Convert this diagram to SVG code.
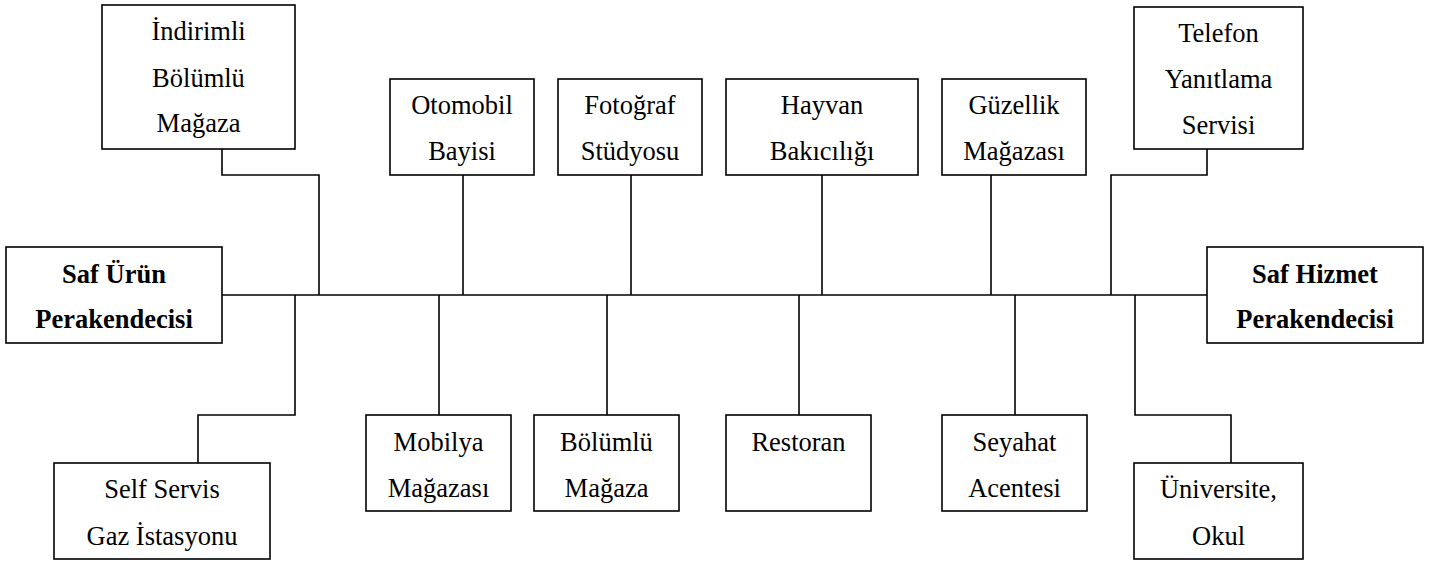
<svg xmlns="http://www.w3.org/2000/svg" width="1434" height="563" viewBox="0 0 1434 563">
  <style>
    .box { fill: #ffffff; stroke: #000000; stroke-width: 1.6; }
    .wire { fill: none; stroke: #000000; stroke-width: 1.6; }
    .lbl { font-family: 'Liberation Serif', 'Times New Roman', serif; font-size: 26.5px; fill: #000000; text-anchor: middle; }
    .bold { font-weight: bold; }
  </style>
  <rect width="1434" height="563" fill="#ffffff"/>

  <!-- connectors: main axis plus branches -->
  <g id="connectors">
    <line class="wire" x1="222" y1="295" x2="1207" y2="295"/>
    <polyline class="wire" points="222,149 222,175 319,175 319,295"/>
    <line class="wire" x1="463" y1="175" x2="463" y2="295"/>
    <line class="wire" x1="631" y1="175" x2="631" y2="295"/>
    <line class="wire" x1="822" y1="175" x2="822" y2="295"/>
    <line class="wire" x1="991" y1="175" x2="991" y2="295"/>
    <polyline class="wire" points="1207,149 1207,175 1111,175 1111,295"/>
    <polyline class="wire" points="295,295 295,415 198,415 198,463"/>
    <line class="wire" x1="439" y1="295" x2="439" y2="415"/>
    <line class="wire" x1="607" y1="295" x2="607" y2="415"/>
    <line class="wire" x1="799" y1="295" x2="799" y2="415"/>
    <line class="wire" x1="1015" y1="295" x2="1015" y2="415"/>
    <polyline class="wire" points="1135,295 1135,415 1231,415 1231,463"/>
  </g>

  <!-- upper row -->
  <g id="indirimli">
    <rect class="box" x="102" y="5" width="193" height="144"/>
    <text class="lbl" x="198.5" y="40">İndirimli</text>
    <text class="lbl" x="198.5" y="86.5">Bölümlü</text>
    <text class="lbl" x="198.5" y="132">Mağaza</text>
  </g>
  <g id="otomobil">
    <rect class="box" x="390" y="79" width="144" height="96"/>
    <text class="lbl" x="462" y="114">Otomobil</text>
    <text class="lbl" x="462" y="159.5">Bayisi</text>
  </g>
  <g id="fotograf">
    <rect class="box" x="558" y="79" width="144" height="96"/>
    <text class="lbl" x="630" y="114">Fotoğraf</text>
    <text class="lbl" x="630" y="159.5">Stüdyosu</text>
  </g>
  <g id="hayvan">
    <rect class="box" x="726" y="79" width="192" height="96"/>
    <text class="lbl" x="822" y="114">Hayvan</text>
    <text class="lbl" x="822" y="159.5">Bakıcılığı</text>
  </g>
  <g id="guzellik">
    <rect class="box" x="942" y="79" width="144" height="96"/>
    <text class="lbl" x="1014" y="114">Güzellik</text>
    <text class="lbl" x="1014" y="159.5">Mağazası</text>
  </g>
  <g id="telefon">
    <rect class="box" x="1134" y="7" width="169" height="142"/>
    <text class="lbl" x="1218.5" y="41.5">Telefon</text>
    <text class="lbl" x="1218.5" y="87.5">Yanıtlama</text>
    <text class="lbl" x="1218.5" y="133.5">Servisi</text>
  </g>

  <!-- end points of the scale -->
  <g id="saf-urun">
    <rect class="box" x="6" y="247" width="216" height="96"/>
    <text class="lbl bold" x="114" y="283">Saf Ürün</text>
    <text class="lbl bold" x="114" y="328">Perakendecisi</text>
  </g>
  <g id="saf-hizmet">
    <rect class="box" x="1207" y="247" width="216" height="96"/>
    <text class="lbl bold" x="1315" y="283">Saf Hizmet</text>
    <text class="lbl bold" x="1315" y="328">Perakendecisi</text>
  </g>

  <!-- lower row -->
  <g id="self-servis">
    <rect class="box" x="54" y="463" width="216" height="96"/>
    <text class="lbl" x="162" y="498">Self Servis</text>
    <text class="lbl" x="162" y="545">Gaz İstasyonu</text>
  </g>
  <g id="mobilya">
    <rect class="box" x="366" y="415" width="145" height="96"/>
    <text class="lbl" x="438.5" y="451">Mobilya</text>
    <text class="lbl" x="438.5" y="497">Mağazası</text>
  </g>
  <g id="bolumlu">
    <rect class="box" x="534" y="415" width="145" height="96"/>
    <text class="lbl" x="606.5" y="451">Bölümlü</text>
    <text class="lbl" x="606.5" y="497">Mağaza</text>
  </g>
  <g id="restoran">
    <rect class="box" x="726" y="415" width="145" height="96"/>
    <text class="lbl" x="798.5" y="451">Restoran</text>
  </g>
  <g id="seyahat">
    <rect class="box" x="942" y="415" width="145" height="96"/>
    <text class="lbl" x="1014.5" y="451">Seyahat</text>
    <text class="lbl" x="1014.5" y="497">Acentesi</text>
  </g>
  <g id="universite">
    <rect class="box" x="1134" y="463" width="169" height="96"/>
    <text class="lbl" x="1218.5" y="498">Üniversite,</text>
    <text class="lbl" x="1218.5" y="545">Okul</text>
  </g>
</svg>
